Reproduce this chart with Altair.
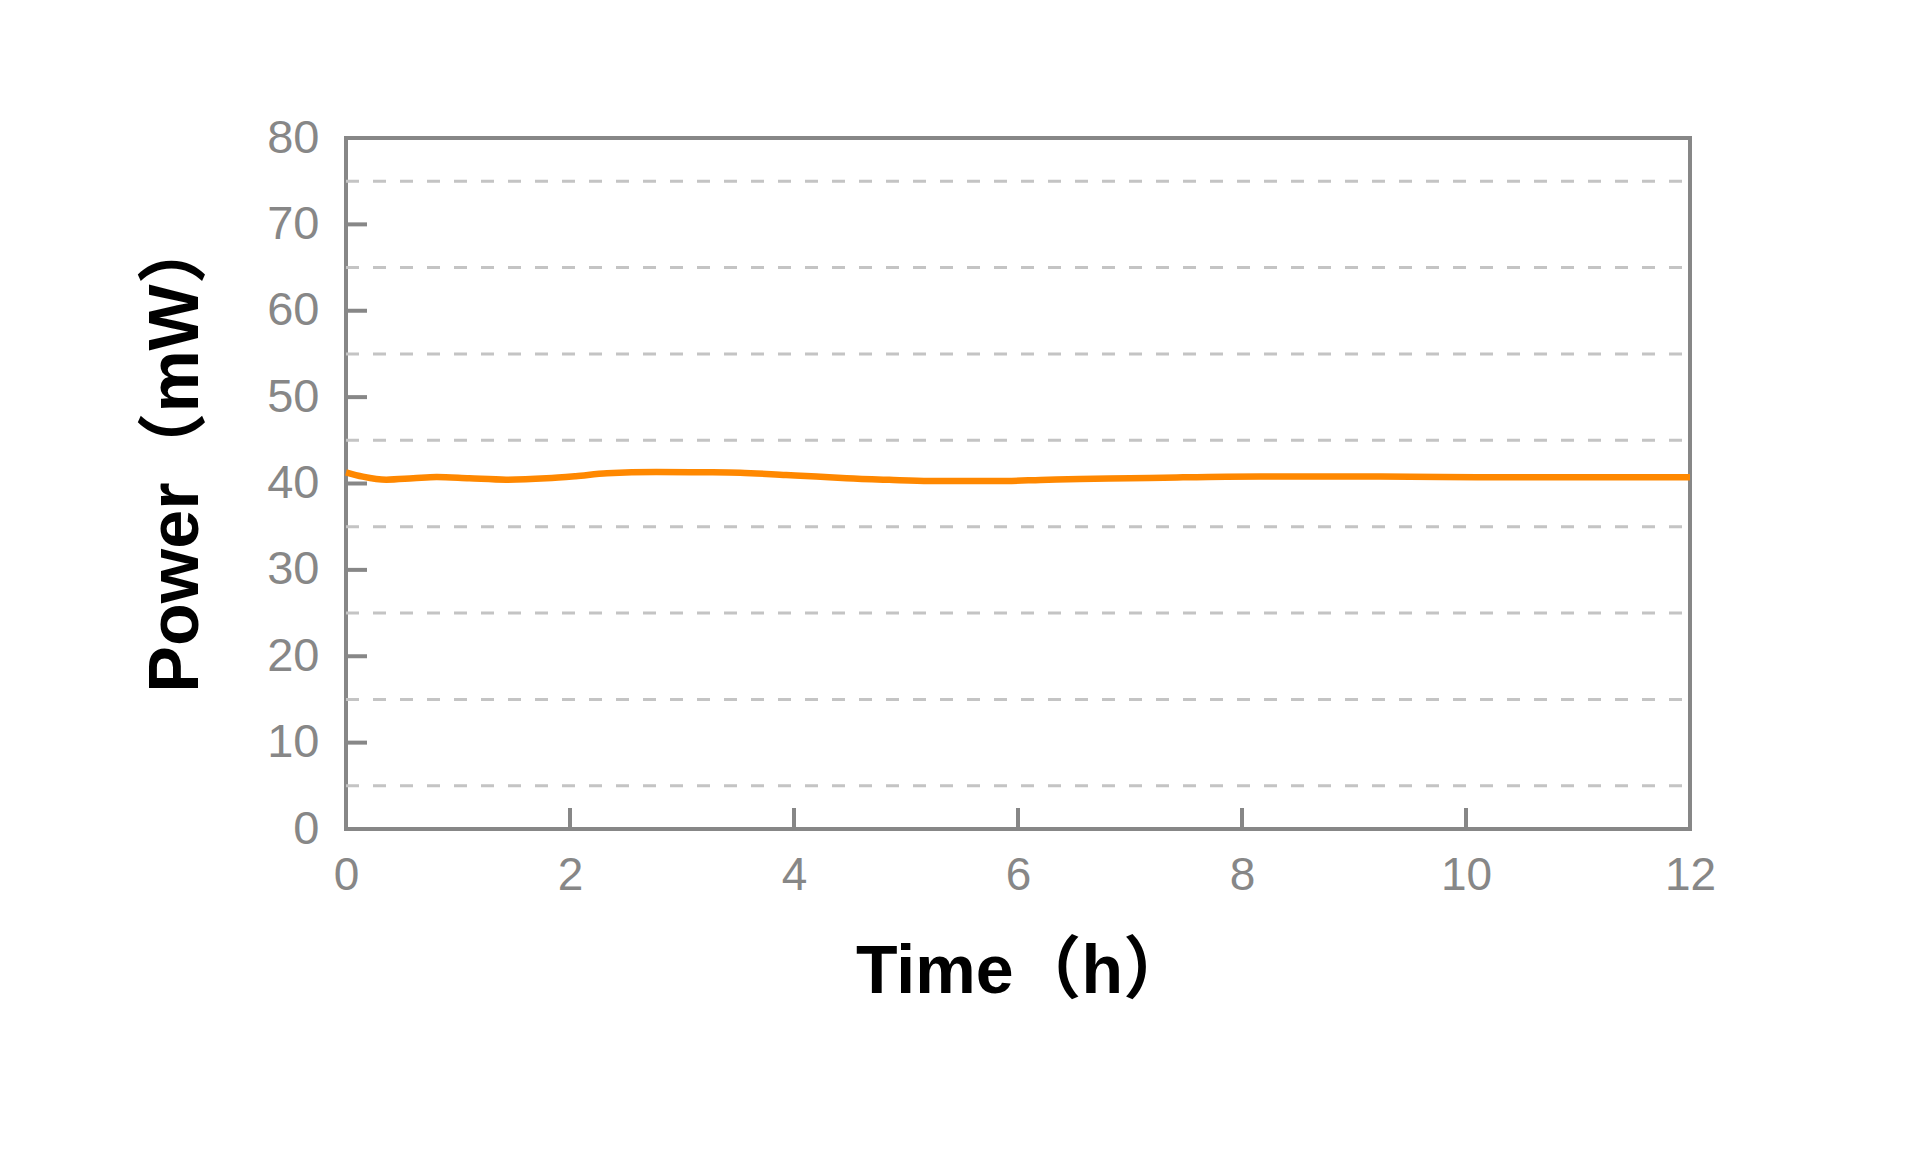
import altair as alt
import pandas as pd

# Data
time_h = [0, 0.15, 0.36, 0.6, 0.81, 1.1, 1.43, 1.79, 2.05, 2.33, 2.77, 3.2, 3.52,
          3.93, 4.2, 4.47, 4.85, 5.21, 5.5, 5.81, 6.2, 6.55, 7.0, 7.3, 7.86, 8.5,
          9.0, 9.5, 10.1, 11.0, 12.0]
power_mw = [41.3, 40.8, 40.44, 40.6, 40.75, 40.6, 40.44, 40.6, 40.85, 41.18, 41.33,
            41.3, 41.25, 40.98, 40.8, 40.6, 40.42, 40.29, 40.28, 40.29, 40.4, 40.52,
            40.6, 40.67, 40.79, 40.8, 40.8, 40.79, 40.72, 40.72, 40.72]

x_ticks = [0, 2, 4, 6, 8, 10, 12]
y_ticks = [0, 10, 20, 30, 40, 50, 60, 70, 80]
grid_vals = [5, 15, 25, 35, 45, 55, 65, 75]
inner_x_ticks = [2, 4, 6, 8, 10]
inner_y_ticks = [10, 20, 30, 40, 50, 60, 70]

W, H = 1344, 691
GREY = "#878787"
FONT = "Liberation Sans, Arial, Noto Sans CJK SC"

df = pd.DataFrame({"t": time_h, "p": power_mw})
grid_df = pd.DataFrame({"g": grid_vals})
xt_df = pd.DataFrame({"xt": inner_x_ticks})
yt_df = pd.DataFrame({"yt": inner_y_ticks})

xscale = alt.Scale(domain=[0, 12], nice=False, zero=False)
yscale = alt.Scale(domain=[0, 80], nice=False)

x_axis = alt.Axis(
    values=x_ticks, grid=False, ticks=False, tickSize=0, domain=False,
    labelFont=FONT, labelFontSize=46, labelColor=GREY, labelPadding=24,
    title="Time（h）", titleFont=FONT, titleFontSize=68, titleFontWeight="bold",
    titleColor="black", titleX=677, titleY=163, titleBaseline="alphabetic",
    titleAlign="center", labelFlush=False,
)
y_axis = alt.Axis(
    values=y_ticks, grid=False, ticks=False, tickSize=0, domain=False,
    labelFont=FONT, labelFontSize=47, labelColor=GREY, labelPadding=27,
    title="Power（mW）", titleFont=FONT, titleFontSize=70, titleFontWeight="bold",
    titleColor="black", titleX=-149, titleY=315, titleAngle=-90,
    titleBaseline="alphabetic", titleAlign="center", labelFlush=False,
)

line = alt.Chart(df).mark_line(
    color="#ff8800", strokeWidth=6.5, interpolate="monotone"
).encode(
    x=alt.X("t:Q", scale=xscale, axis=x_axis),
    y=alt.Y("p:Q", scale=yscale, axis=y_axis),
)

grid = alt.Chart(grid_df).mark_rule(
    color="#c4c4c4", strokeWidth=3, strokeDash=[13, 14]
).encode(
    y=alt.Y("g:Q", scale=yscale, axis=y_axis),
    x=alt.value(0), x2=alt.value(W),
)

yticks = alt.Chart(yt_df).mark_rule(color=GREY, strokeWidth=4).encode(
    y=alt.Y("yt:Q", scale=yscale, axis=y_axis),
    x=alt.value(0), x2=alt.value(21),
)

xticks = alt.Chart(xt_df).mark_rule(color=GREY, strokeWidth=4).encode(
    x=alt.X("xt:Q", scale=xscale, axis=x_axis),
    y=alt.value(H - 21), y2=alt.value(H),
)

chart = alt.layer(grid, line, yticks, xticks).properties(
    width=W, height=H,
    padding={"left": 338, "top": 130, "right": 222, "bottom": 315},
    autosize=alt.AutoSizeParams(type="none"),
    background="white",
).configure_view(
    stroke=GREY, strokeWidth=4
)

chart.save("out.html", embed_options={"renderer": "svg", "actions": False})
